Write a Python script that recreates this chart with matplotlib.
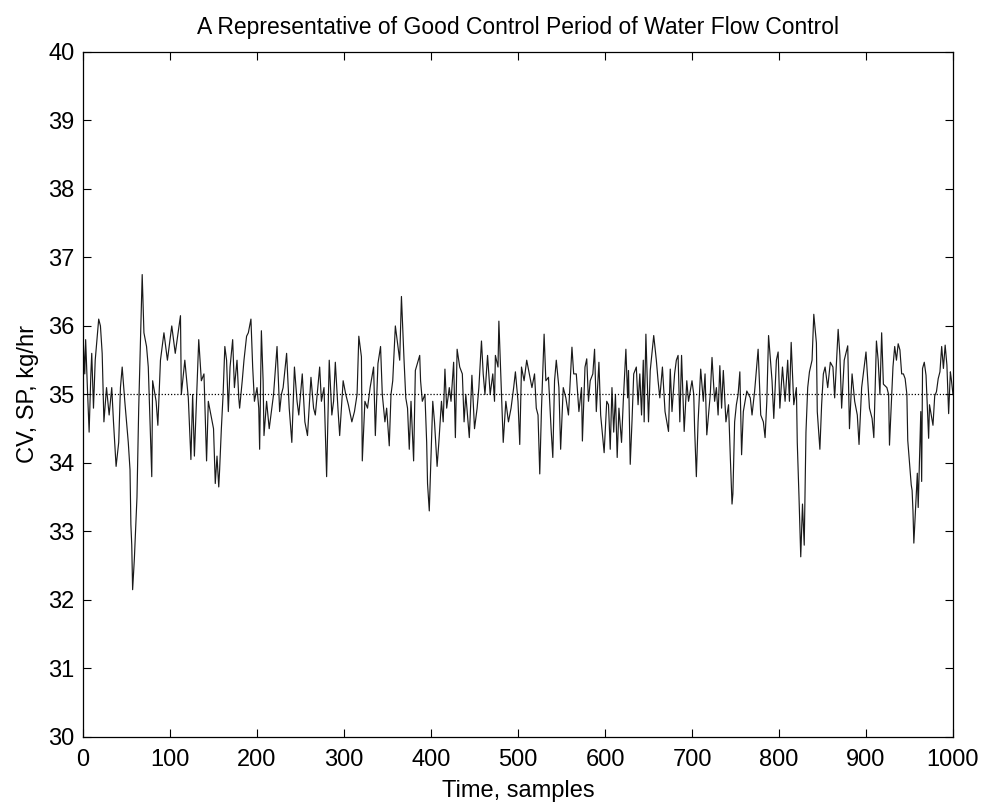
"""Good control period of water flow control: CV vs SP over 1000 samples."""
import matplotlib
matplotlib.use("Agg")
import matplotlib.pyplot as plt

plt.rcParams['font.family'] = ['Liberation Sans', 'DejaVu Sans']

# ---- data (sample index, CV in kg/hr) ----
t_seg1 = [0, 2, 3, 5, 7, 9, 10, 12, 14, 18, 20, 22, 24, 27, 30, 33, 35, 38, 41, 43,
          45, 48, 52, 54, 55, 56, 57, 59, 62, 64, 66, 68, 70, 73, 75, 79, 80, 84, 86, 89,
          93, 97, 99, 102, 106, 112, 113, 117, 121, 124, 126, 128]
cv_seg1 = [35.85, 35.3, 35.8, 35.1, 34.45, 35.3, 35.6, 34.8, 35.5, 36.1, 36.0, 35.6, 34.6,
           35.1, 34.7, 35.1, 34.6, 33.95, 34.3, 35.1, 35.4, 34.9, 34.3, 33.9, 33.1, 32.8,
           32.15, 32.6, 33.5, 34.8, 35.8, 36.75, 35.9, 35.7, 35.4, 33.8, 35.2, 34.9, 34.55,
           35.5, 35.9, 35.5, 35.7, 36.0, 35.6, 36.15, 35.0, 35.5, 34.95, 34.05, 35.0, 34.1]

t_seg2 = [133, 136, 139, 142, 144, 147, 150, 152, 154, 156, 157, 159, 161, 163, 165, 167,
          169, 172, 174, 177, 179, 180, 183, 185, 188, 190, 193, 195, 197, 200, 202, 203,
          205, 207, 208, 211, 214, 217, 219, 223, 226, 228, 230, 234, 237, 240, 243, 246,
          248, 252, 255, 258, 262, 265]
cv_seg2 = [35.8, 35.2, 35.3, 34.03, 34.9, 34.7, 34.5, 33.7, 34.1, 33.65, 33.9, 34.5, 35.0,
           35.7, 35.5, 34.75, 35.4, 35.8, 35.1, 35.5, 34.95, 34.8, 35.2, 35.5, 35.85, 35.9,
           36.1, 35.4, 34.9, 35.1, 34.8, 34.2, 35.93, 35.2, 34.4, 34.9, 34.5, 34.8, 35.0,
           35.7, 34.75, 35.0, 35.1, 35.6, 34.8, 34.3, 35.4, 34.9, 34.7, 35.3, 34.6, 34.4,
           35.25, 34.8]

t_seg3 = [267, 272, 274, 277, 280, 283, 286, 288, 290, 293, 295, 299, 302, 305, 309, 312,
          315, 317, 320, 321, 324, 327, 330, 334, 336, 339, 342, 344, 347, 349, 352, 354,
          356, 359, 361, 364, 366, 369, 371, 373, 375, 377, 380, 382, 387, 388, 390]
cv_seg3 = [34.7, 35.4, 34.9, 35.1, 33.8, 35.5, 34.7, 34.9, 35.47, 34.8, 34.4, 35.2, 35.0,
           34.85, 34.6, 34.75, 35.0, 35.85, 35.55, 34.03, 34.9, 34.8, 35.1, 35.4, 34.4,
           35.45, 35.7, 35.0, 34.6, 34.8, 34.25, 35.0, 35.2, 36.0, 35.8, 35.5, 36.43, 35.5,
           34.95, 34.8, 34.2, 34.9, 34.03, 35.35, 35.57, 35.2, 34.9]

t_seg4 = [393, 395, 396, 398, 400, 402, 404, 407, 409, 412, 414, 416, 418, 421, 423, 426,
          428, 430, 433, 436, 438, 440, 444, 447, 450, 453, 455, 458, 460, 462, 465, 468,
          471, 473, 474, 477, 478, 481, 483, 486, 489, 492, 495, 497, 500, 502, 504, 507,
          510, 513, 516, 519, 521, 523, 525]
cv_seg4 = [35.0, 34.3, 33.7, 33.3, 34.1, 34.9, 34.6, 33.95, 34.3, 34.9, 34.6, 35.37, 34.8,
           35.1, 34.9, 35.47, 34.37, 35.66, 35.4, 35.3, 34.6, 35.0, 34.37, 35.28, 34.5, 34.8,
           35.1, 35.78, 35.3, 35.0, 35.57, 35.0, 35.3, 34.9, 35.57, 35.4, 36.07, 35.0, 34.3,
           34.9, 34.6, 34.8, 35.1, 35.33, 34.9, 34.27, 35.4, 35.2, 35.5, 35.3, 35.1, 35.3,
           34.8, 34.7, 33.84]

t_seg5 = [527, 530, 532, 535, 538, 540, 542, 544, 547, 549, 552, 555, 558, 560, 562, 564,
          567, 570, 573, 574, 577, 579, 581, 583, 586, 588, 590, 593, 595, 599, 602, 604,
          606, 608, 610, 612, 614, 616, 619, 621, 624, 626, 627, 629, 631, 633, 636, 638,
          640, 642, 644, 645, 647, 650, 652, 656, 659]
cv_seg5 = [34.8, 35.88, 35.2, 35.25, 34.5, 34.08, 35.2, 35.5, 35.1, 34.2, 35.1, 34.95, 34.7,
           35.2, 35.69, 35.3, 35.3, 34.75, 35.1, 34.32, 35.4, 35.52, 34.9, 35.2, 35.3, 35.66,
           34.75, 35.47, 34.7, 34.15, 34.9, 34.85, 34.2, 35.1, 34.45, 35.0, 34.08, 34.8,
           34.3, 34.9, 35.66, 34.95, 35.35, 33.98, 34.6, 35.3, 35.4, 34.85, 35.3, 34.7, 35.5,
           34.6, 35.88, 34.6, 35.35, 35.86, 35.5]

t_seg6 = [661, 663, 666, 669, 673, 675, 677, 680, 682, 684, 686, 688, 691, 694, 696, 700,
          702, 703, 705, 707, 710, 713, 715, 717, 721, 723, 726, 728, 730, 732, 734, 736,
          739, 742, 744, 746, 747, 749, 751, 753, 755, 757, 759, 761, 763, 767, 769, 772,
          776, 779, 782, 784, 786, 788, 792]
cv_seg6 = [35.2, 34.95, 35.4, 34.75, 34.46, 35.37, 34.75, 35.3, 35.5, 35.57, 34.6, 35.57,
           34.46, 35.2, 34.9, 35.2, 35.0, 34.5, 33.8, 34.6, 35.37, 34.9, 35.3, 34.41, 35.0,
           35.54, 34.9, 35.1, 34.7, 35.42, 34.8, 35.35, 34.6, 34.85, 34.1, 33.4, 33.55, 34.6,
           34.85, 35.0, 35.33, 34.12, 34.75, 34.9, 35.05, 34.95, 34.7, 35.05, 35.66, 34.7,
           34.6, 34.37, 34.9, 35.86, 35.2]

t_seg7 = [794, 797, 799, 801, 804, 807, 810, 812, 814, 817, 820, 821, 823, 825, 827, 829,
          831, 833, 835, 838, 840, 843, 844, 847, 849, 851, 853, 856, 859, 862, 864, 868,
          870, 872, 875, 879, 881, 884, 887, 890, 892, 895, 900, 904, 907, 909, 912, 914,
          916, 918, 920]
cv_seg7 = [34.65, 35.5, 35.62, 34.8, 35.4, 34.9, 35.5, 34.9, 35.76, 34.85, 35.1, 34.3, 33.5,
           32.63, 33.4, 32.8, 34.45, 35.1, 35.33, 35.5, 36.17, 35.75, 34.75, 34.2, 34.85,
           35.3, 35.4, 35.1, 35.47, 35.4, 34.95, 35.95, 35.57, 34.8, 35.5, 35.71, 34.5, 35.3,
           34.9, 34.7, 34.27, 35.1, 35.62, 34.8, 34.65, 34.37, 35.78, 35.5, 35.0, 35.9, 35.15]

t_seg8 = [924, 926, 927, 930, 931, 933, 935, 937, 939, 941, 943, 945, 947, 948, 949, 952,
          953, 954, 955, 957, 959, 960, 962, 963, 964, 965, 967, 969, 972, 973, 975, 977,
          979, 981, 983, 985, 987, 989, 991, 993, 995, 997, 998, 1000]
cv_seg8 = [35.1, 35.0, 34.26, 35.1, 35.4, 35.7, 35.5, 35.74, 35.65, 35.3, 35.3, 35.23, 35.0,
           34.33, 34.17, 33.68, 33.6, 33.3, 32.83, 33.35, 33.85, 33.35, 34.26, 34.75, 33.73,
           35.38, 35.47, 35.28, 34.36, 34.85, 34.7, 34.55, 34.98, 35.04, 35.23, 35.33, 35.7,
           35.38, 35.72, 35.43, 34.72, 35.33, 35.23, 35.0]

SP = 35.0
x_ticks = list(range(0, 1001, 100))
y_ticks = list(range(30, 41))

t = t_seg1 + t_seg2 + t_seg3 + t_seg4 + t_seg5 + t_seg6 + t_seg7 + t_seg8
cv = cv_seg1 + cv_seg2 + cv_seg3 + cv_seg4 + cv_seg5 + cv_seg6 + cv_seg7 + cv_seg8

fig = plt.figure(figsize=(9.85, 8.05), dpi=100)
ax = fig.add_axes([0.0843, 0.0845, 0.8832, 0.851])

ax.plot(t, cv, color="#1a1a1a", lw=0.85)
ax.plot([x_ticks[0], x_ticks[-1]], [SP, SP], color="black", lw=0.9, ls=(0, (1, 1.5)))

ax.set_xlim(0, 1000); ax.set_ylim(30, 40)
ax.set_xticks(x_ticks); ax.set_yticks(y_ticks)
ax.tick_params(direction="in", length=6, width=0.8, top=True, right=True,
               labelsize=17, pad=6)
ax.tick_params(axis="x", pad=9)
for s in ax.spines.values():
    s.set_linewidth(0.9)

ax.set_title("A Representative of Good Control Period of Water Flow Control",
             fontsize=16.5, pad=13)
ax.set_xlabel("Time, samples", fontsize=17, labelpad=6)
ax.set_ylabel("CV, SP, kg/hr", fontsize=17, labelpad=7)

fig.savefig("out.png", dpi=100)
